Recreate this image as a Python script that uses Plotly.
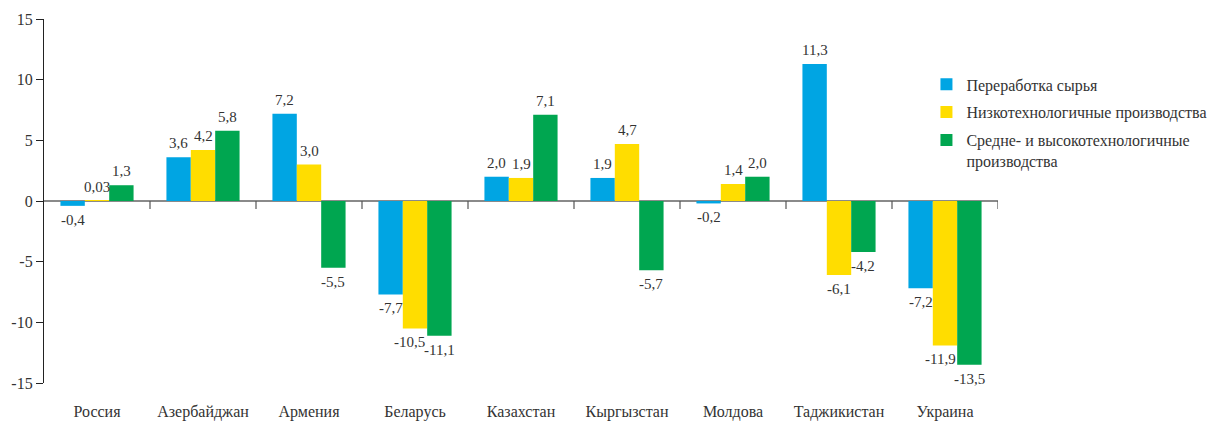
import plotly.graph_objects as go

categories = ["Россия", "Азербайджан", "Армения", "Беларусь", "Казахстан",
              "Кыргызстан", "Молдова", "Таджикистан", "Украина"]
series_names = ["Переработка сырья", "Низкотехнологичные производства",
                "Средне- и высокотехнологичные<br>производства"]
raw = [-0.4, 3.6, 7.2, -7.7, 2.0, 1.9, -0.2, 11.3, -7.2]
low_tech = [0.03, 4.2, 3.0, -10.5, 1.9, 4.7, 1.4, -6.1, -11.9]
mid_high = [1.3, 5.8, -5.5, -11.1, 7.1, -5.7, 2.0, -4.2, -13.5]
colors = ["#00A5E3", "#FFDD00", "#00A650"]
y_ticks = [-15, -10, -5, 0, 5, 10, 15]

FONT = "Liberation Serif"
TXT = "#333333"
# the page body has an 8px default margin, so the figure is 8px smaller
W, H = 1217, 413
ML, MR, MT, MB = 36, 227, 11, 38
BARGAP = 0.31
# small horizontal nudges (px) of crowded value labels, as in the original
label_nudge = {("Беларусь", 1): -6, ("Украина", 1): -5}


def fmt(v):
    s = ("%.2f" % v) if abs(v) < 0.1 and v != 0 else ("%.1f" % v)
    return s.replace(".", ",")


all_series = [raw, low_tech, mid_high]
fig = go.Figure()
for i, (name, vals) in enumerate(zip(series_names, all_series)):
    fig.add_trace(go.Bar(
        x=categories, y=vals, name=name, marker_color=colors[i],
        marker_line_width=0, legendgroup="g%d" % i,
    ))

# value labels as annotations (offset from bar ends)
cat_px = (W - ML - MR) / len(categories)
bar_px = cat_px * (1 - BARGAP) / len(all_series)
annotations = []
for i, vals in enumerate(all_series):
    for c, v in zip(categories, vals):
        annotations.append(dict(
            x=c, y=v, xref="x", yref="y", text=fmt(v), showarrow=False,
            xshift=(i - 1) * bar_px + label_nudge.get((c, i), 0),
            yshift=14 if v >= 0 else -14,
            font=dict(family=FONT, size=15, color=TXT),
        ))

# small boundary ticks along the zero line
shapes = []
for k in range(1, len(categories) + 1):
    shapes.append(dict(type="line", xref="x", yref="y",
                       x0=k - 0.5, x1=k - 0.5, y0=0, y1=-0.65,
                       line=dict(color="#555555", width=1.2)))

fig.update_layout(
    width=W, height=H,
    margin=dict(l=ML, r=MR, t=MT, b=MB, autoexpand=False),
    paper_bgcolor="white", plot_bgcolor="white",
    barmode="group", bargap=BARGAP, bargroupgap=0,
    font=dict(family=FONT, size=16, color=TXT),
    shapes=shapes, annotations=annotations,
    legend=dict(x=0.925, xanchor="left", y=0.867, yanchor="top",
                font=dict(family=FONT, size=16, color=TXT),
                traceorder="grouped", tracegroupgap=4, valign="top",
                bgcolor="rgba(0,0,0,0)"),
    xaxis=dict(showline=False, showgrid=False, zeroline=False, automargin=False,
               ticks="outside", ticklen=14, tickcolor="rgba(0,0,0,0)",
               tickfont=dict(family=FONT, size=16, color=TXT),
               range=[-0.5, len(categories) - 0.5]),
    yaxis=dict(range=[-15, 15], tickvals=y_ticks, automargin=False,
               ticktext=[str(t) for t in y_ticks],
               showgrid=False, showline=True, linecolor="#222222", linewidth=1.2,
               ticks="outside", ticklen=7, tickcolor="#222222",
               zeroline=True, zerolinecolor="#8a8a8a", zerolinewidth=2,
               tickfont=dict(family=FONT, size=16, color=TXT)),
)

fig.write_html("out.html")
